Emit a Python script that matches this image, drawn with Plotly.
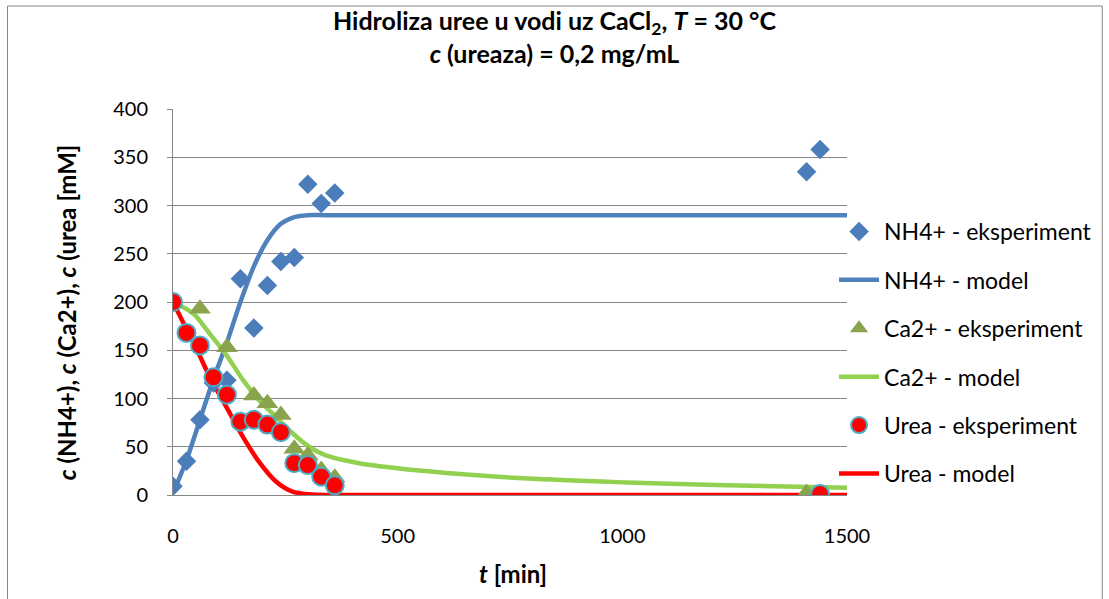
import plotly.graph_objects as go

# ---------------- data ----------------
t_nh4_exp = [0, 30, 60, 90, 120, 150, 180, 210, 240, 270, 300, 330, 360, 1410, 1440]
c_nh4_exp = [9, 35, 78, 116, 119, 224, 173, 217, 242, 246, 322, 302, 313, 335, 358]

t_ca_exp = [60, 120, 180, 210, 240, 270, 300, 330, 360, 1410]
c_ca_exp = [193, 153, 103, 95, 83, 48, 41, 26, 18, 2]

t_urea_exp = [0, 30, 60, 90, 120, 150, 180, 210, 240, 270, 300, 330, 360, 1440]
c_urea_exp = [200, 168, 155, 122, 104, 76, 78, 73, 65, 33, 31, 19, 10, 1]

t_nh4_mod = [0, 30, 60, 90, 120, 150, 180, 210, 240, 270, 300, 340, 500, 1000, 1500]
c_nh4_mod = [2, 36, 78, 120, 158, 200, 237, 264, 281, 288, 290, 290, 290, 290, 290]

t_ca_mod = [0, 45, 82, 119, 156, 192, 229, 266, 303, 340, 414, 568, 790, 1011, 1232, 1500]
c_ca_mod = [200, 188, 167, 145, 119, 98, 81, 64, 50, 41, 33, 24.5, 17, 13, 10, 7.5]

t_urea_mod = [0, 30, 45, 82, 119, 156, 192, 229, 266, 303, 340, 400, 700, 1100, 1500]
c_urea_mod = [200, 172, 159, 122, 91, 60, 34, 14, 3.5, 0.7, 0, 0, 0, 0, 0]

x_ticks = [0, 500, 1000, 1500]
y_ticks = [0, 50, 100, 150, 200, 250, 300, 350, 400]

names = ["NH4+ - eksperiment", "NH4+ - model", "Ca2+ - eksperiment",
         "Ca2+ - model", "Urea - eksperiment", "Urea - model"]

BLUE = "#4F81BD"
GREEN = "#92D050"
RED = "#FF0000"
GRID = "#868686"
FONT = "Lato"

fig = go.Figure()

# model lines (drawn first, below markers)
fig.add_trace(go.Scatter(x=t_nh4_mod, y=c_nh4_mod, mode="lines", name=names[1],
                         line=dict(color=BLUE, width=4.5, shape="spline", smoothing=0.8),
                         legendgroup="g2", legendrank=2))
fig.add_trace(go.Scatter(x=t_ca_mod, y=c_ca_mod, mode="lines", name=names[3],
                         line=dict(color=GREEN, width=4.5, shape="spline", smoothing=0.8),
                         legendgroup="g4", legendrank=4))
fig.add_trace(go.Scatter(x=t_urea_mod, y=c_urea_mod, mode="lines", name=names[5],
                         line=dict(color=RED, width=4.5, shape="spline", smoothing=0.8),
                         legendgroup="g6", legendrank=6))

# experimental markers
fig.add_trace(go.Scatter(x=t_nh4_exp, y=c_nh4_exp, mode="markers", name=names[0],
                         marker=dict(symbol="diamond", size=15, color="#4A7DBA", line=dict(width=0)),
                         legendgroup="g1", legendrank=1))
fig.add_trace(go.Scatter(x=t_ca_exp, y=c_ca_exp, mode="markers", name=names[2],
                         marker=dict(symbol="triangle-up", size=19, color="#8AA44E", line=dict(width=0)),
                         legendgroup="g3", legendrank=3))
fig.add_trace(go.Scatter(x=t_urea_exp, y=c_urea_exp, mode="markers", name=names[4],
                         marker=dict(symbol="circle", size=18, color=RED,
                                     line=dict(color="#4BACC6", width=2)),
                         legendgroup="g5", legendrank=5))

L, R, T, B = 173, 260, 109, 104
W, H = 1109, 599
pw, ph = W - L - R, H - T - B

def px(xp):
    return (xp - L) / pw

def py(yp):
    return (H - B - yp) / ph

fig.update_layout(
    width=W, height=H,
    margin=dict(l=L, r=R, t=T, b=B),
    paper_bgcolor="white", plot_bgcolor="white",
    font=dict(family=FONT, color="black", size=20),
    title=dict(
        text="<b>Hidroliza uree u vodi uz CaCl<sub>2</sub>, <i>T</i> = 30 °C<br><i>c</i> (ureaza) = 0,2 mg/mL</b>",
        x=0.5, xref="container", xanchor="center",
        y=1 - 30 / H, yref="container", yanchor="top",
        font=dict(family=FONT, size=25, color="black"),
    ),
    xaxis=dict(range=[0, 1500], tickmode="array", tickvals=x_ticks,
               showgrid=False, zeroline=False, showline=True, linecolor=GRID, linewidth=1,
               ticks="", tickfont=dict(size=20, family=FONT), ticklabelstandoff=23),
    yaxis=dict(range=[0, 400], tickmode="array", tickvals=y_ticks,
               showgrid=True, gridcolor=GRID, gridwidth=1, zeroline=False,
               showline=True, linecolor=GRID, linewidth=1,
               ticks="outside", ticklen=5, tickcolor=GRID,
               tickfont=dict(size=20, family=FONT), ticklabelstandoff=15),
    legend=dict(x=px(836), y=py(210), xanchor="left", yanchor="top",
                font=dict(size=23, family=FONT), traceorder="grouped",
                tracegroupgap=15.5, bgcolor="rgba(0,0,0,0)", itemwidth=40),
    showlegend=True,
    annotations=[
        dict(text="<b><i>t</i> [min]</b>", xref="paper", yref="paper",
             x=px(514), y=py(573), xanchor="center", yanchor="middle",
             showarrow=False, font=dict(size=24, family=FONT)),
        dict(text="<b><i>c</i> (NH4+), <i>c</i> (Ca2+), <i>c</i> (urea [mM]</b>",
             xref="paper", yref="paper", x=px(66), y=py(312), textangle=-90,
             xanchor="center", yanchor="middle", showarrow=False,
             font=dict(size=24, family=FONT)),
    ],
    shapes=[
        dict(type="rect", xref="paper", yref="paper",
             x0=px(7), x1=px(1105), y0=py(640), y1=py(6),
             line=dict(color=GRID, width=1), fillcolor="rgba(0,0,0,0)", layer="below"),
    ],
)

fig.write_html("out.html", config={"displayModeBar": False},
               post_script="document.body.style.margin='0px';document.body.style.overflow='hidden';")
